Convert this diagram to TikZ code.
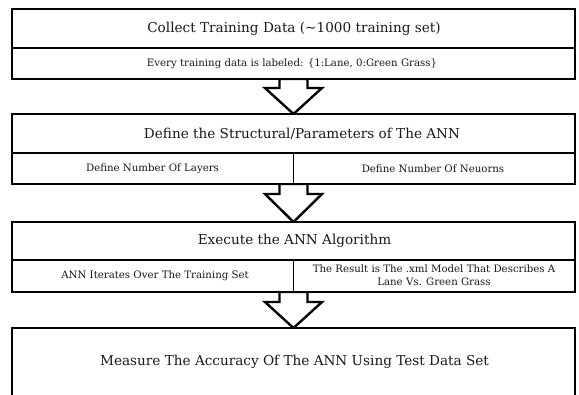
\documentclass[tikz,border=0pt]{standalone}
\usepackage{fontspec}
\setmainfont{DejaVu Serif}
\usetikzlibrary{calc,backgrounds}
\begin{document}
\begin{tikzpicture}[x=1pt,y=-1pt,
  box/.style={draw=black, line width=2.8pt, fill=white, minimum width=563pt, inner sep=0pt, outer sep=0pt},
  divider/.style={draw=black, line width=1.2pt},
  title/.style={font=\fontsize{13.6}{15}\selectfont, text=black!90, inner sep=0pt},
  big/.style={font=\fontsize{13.6}{15}\selectfont, text=black!90, inner sep=0pt},
  sub/.style={font=\fontsize{10.2}{12.8}\selectfont, text=black!90, align=center, inner sep=0pt},
  blockarrow/.style={draw=black, line width=2.4pt, fill=white, line join=miter}
]
\useasboundingbox (0,0) rectangle (579,395);
\clip (0,0) rectangle (579,395);

% boxes
\node[box, minimum height=70pt] (b1) at (293.5,44) {};
\node[box, minimum height=70pt] (b2) at (293.5,149) {};
\node[box, minimum height=70pt] (b3) at (293.5,257) {};
\node[box, minimum height=110pt] (b4) at (293.5,383) {};

% dividers
\draw[divider] ($(b1.west)+(0,4)$) -- ($(b1.east)+(0,4)$);
\draw[divider] ($(b2.west)+(0,4)$) -- ($(b2.east)+(0,4)$);
\draw[divider] ($(b2.center)+(0,4)$) -- (b2.south);
\draw[divider] ($(b3.west)+(0,3)$) -- ($(b3.east)+(0,3)$);
\draw[divider] ($(b3.center)+(0,3)$) -- (b3.south);

% block arrows
\begin{scope}[on background layer]
\draw[blockarrow] ($(b1.south)+(-14,0)$) -- ($(b1.south)+(-14,9)$) -- ($(b1.south)+(-28.5,9)$)
  -- (b2.north) -- ($(b1.south)+(28.5,9)$) -- ($(b1.south)+(14,9)$) -- ($(b1.south)+(14,0)$) -- cycle;
\draw[blockarrow] ($(b2.south)+(-14,0)$) -- ($(b2.south)+(-14,10)$) -- ($(b2.south)+(-28.5,10)$)
  -- (b3.north) -- ($(b2.south)+(28.5,10)$) -- ($(b2.south)+(14,10)$) -- ($(b2.south)+(14,0)$) -- cycle;
\draw[blockarrow] ($(b3.south)+(-14,0)$) -- ($(b3.south)+(-14,10)$) -- ($(b3.south)+(-28.5,10)$)
  -- (b4.north) -- ($(b3.south)+(28.5,10)$) -- ($(b3.south)+(14,10)$) -- ($(b3.south)+(14,0)$) -- cycle;
\end{scope}

% texts
\node[title] (t1) at (294,28.5) {Collect Training Data (\textasciitilde1000 training set)};
\node[sub] (s1) at (292,63.5) {Every training data is labeled: \{1:Lane, 0:Green Grass\}};
\node[title] (t2) at (302,133.5) {Define the Structural/Parameters of The ANN};
\node[sub] (s2a) at (152.5,168.5) {Define Number Of Layers};
\node[sub] (s2b) at (433,168.5) {Define Number Of Neuorns};
\node[title] (t3) at (294.5,240.5) {Execute the ANN Algorithm};
\node[sub] (s3a) at (155,275.5) {ANN Iterates Over The Training Set};
\node[sub] (s3b) at (434,275) {The Result is The .xml Model That Describes A\\Lane Vs. Green Grass};
\node[big] (t4) at (294.5,362) {Measure The Accuracy Of The ANN Using Test Data Set};
\end{tikzpicture}
\end{document}
